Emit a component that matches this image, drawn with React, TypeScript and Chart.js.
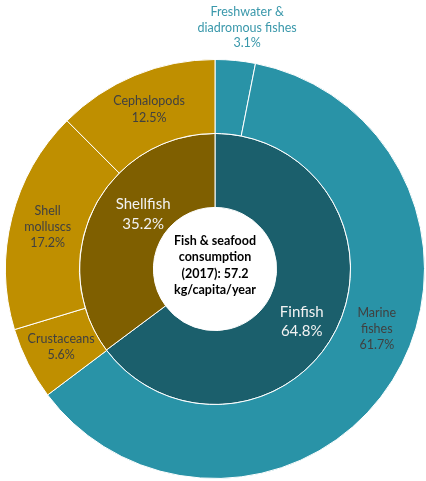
import React, { useEffect, useRef } from 'react';
import { Chart, registerables } from 'chart.js';

Chart.register(...registerables);

// ---- data ----
const outerLabels = ['Freshwater & diadromous fishes', 'Marine fishes', 'Crustaceans', 'Shell molluscs', 'Cephalopods'];
const outerLines = [['Freshwater &', 'diadromous fishes'], ['Marine', 'fishes'], ['Crustaceans'], ['Shell', 'molluscs'], ['Cephalopods']];
const outerValues = [3.1, 61.7, 5.6, 17.2, 12.5];
const innerLabels = ['Finfish', 'Shellfish'];
const innerLines = [['Finfish'], ['Shellfish']];
const innerValues = [64.8, 35.2];
const centerText = ['Fish & seafood', 'consumption', '(2017): 57.2', 'kg/capita/year'];

// ---- styles ----
const TEAL = '#2993a7';
const DARK_TEAL = '#1b5f6c';
const GOLD = '#bf8f00';
const BROWN = '#7f5f00';
const outerColors = [TEAL, TEAL, GOLD, GOLD, GOLD];
const innerColors = [DARK_TEAL, BROWN];
const FONT = 'Lato, "Open Sans", "Liberation Sans", sans-serif';

// label placement tweaks (degrees clockwise, px radial)
const labelNudge: Record<string, { da: number; dr: number }> = {
  'Freshwater & diadromous fishes': { da: 2.8, dr: 0 },
  'Marine fishes': { da: -11.8, dr: 0 },
  Finfish: { da: 4.7, dr: 3 },
  Shellfish: { da: 10.8, dr: -8 },
};
const outsideLabels = ['Freshwater & diadromous fishes'];

const ringLabels = {
  id: 'ringLabels',
  afterDatasetsDraw(chart: any) {
    const ctx = chart.ctx;
    ctx.save();
    chart.data.datasets.forEach((ds: any, di: number) => {
      const meta = chart.getDatasetMeta(di);
      meta.data.forEach((arc: any, i: number) => {
        const p = arc.getProps(['x', 'y', 'startAngle', 'endAngle', 'innerRadius', 'outerRadius'], true);
        const name = ds.names[i];
        const lines = [...ds.lines[i], ds.data[i].toFixed(1) + '%'];
        const nudge = labelNudge[name] || { da: 0, dr: 0 };
        const mid = (p.startAngle + p.endAngle) / 2 + (nudge.da * Math.PI) / 180;
        const outside = outsideLabels.includes(name);
        ctx.textAlign = 'center';
        ctx.textBaseline = 'middle';
        if (outside) {
          const r = p.outerRadius + 11 + nudge.dr;
          const ax = p.x + r * Math.cos(mid);
          const ay = p.y + r * Math.sin(mid);
          const lh = 15.5;
          ctx.font = '12.5px ' + FONT;
          ctx.fillStyle = '#3a98ab';
          lines.forEach((t, k) => {
            const yy = ay - lh / 2 - (lines.length - 1 - k) * lh;
            ctx.fillText(t, ax, yy);
          });
        } else {
          const r = (p.innerRadius + p.outerRadius) / 2 + nudge.dr;
          const cx = p.x + r * Math.cos(mid);
          const cy = p.y + r * Math.sin(mid);
          const inner = di === 1;
          const lh = inner ? 19.5 : 16.3;
          ctx.font = (inner ? '15px ' : '12.5px ') + FONT;
          ctx.fillStyle = inner ? '#f2f2f2' : '#404040';
          lines.forEach((t, k) => {
            const yy = cy + (k - (lines.length - 1) / 2) * lh;
            ctx.fillText(t, cx, yy);
          });
        }
      });
    });
    // center text
    const a = chart.getDatasetMeta(0).data[0];
    if (a) {
      const { x, y } = a.getProps(['x', 'y'], true);
      ctx.font = 'bold 12.5px ' + FONT;
      ctx.fillStyle = '#000000';
      ctx.textAlign = 'center';
      ctx.textBaseline = 'middle';
      const lh = 16.4;
      centerText.forEach((t, k) => {
        ctx.fillText(t, x, y - 3.5 + (k - (centerText.length - 1) / 2) * lh);
      });
    }
    ctx.restore();
  },
};

export default function App() {
  const ref = useRef<HTMLCanvasElement>(null);
  useEffect(() => {
    if (!ref.current) return;
    const chart = new Chart(ref.current, {
      type: 'doughnut',
      data: {
        labels: outerLabels,
        datasets: [
          {
            data: outerValues,
            backgroundColor: outerColors,
            borderColor: '#ffffff',
            borderWidth: 1,
            names: outerLabels,
            lines: outerLines,
          } as any,
          {
            data: innerValues,
            backgroundColor: innerColors,
            borderColor: '#ffffff',
            borderWidth: 1,
            names: innerLabels,
            lines: innerLines,
          } as any,
        ],
      },
      options: {
        responsive: false,
        animation: false,
        devicePixelRatio: 1,
        cutout: '29.4%',
        layout: { padding: { left: 5, right: 1, top: 59, bottom: 2 } },
        plugins: { legend: { display: false }, tooltip: { enabled: false } },
      },
      plugins: [ringLabels],
    });
    return () => chart.destroy();
  }, []);
  return (
    <div style={{ position: 'absolute', left: 0, top: 0, width: 426, height: 481, background: '#fff' }}>
      <canvas ref={ref} width={426} height={481} style={{ display: 'block' }} />
    </div>
  );
}
